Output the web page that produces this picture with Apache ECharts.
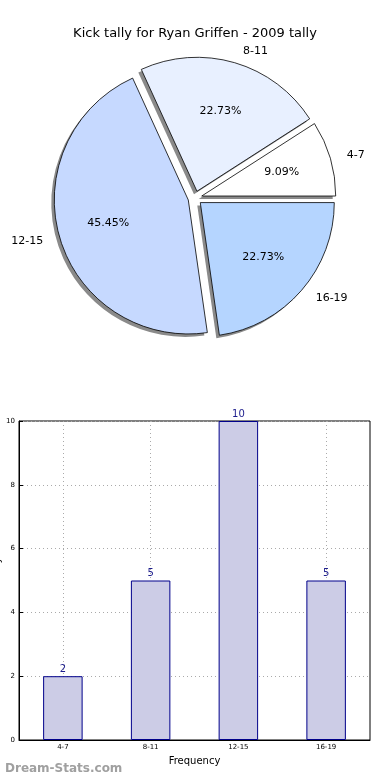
<!DOCTYPE html>
<html>
<head>
<meta charset="utf-8">
<script src="https://cdn.jsdelivr.net/npm/echarts@6/dist/echarts.min.js"></script>
<style>
html,body{margin:0;padding:0;background:#fff;}
#main{width:390px;height:780px;}
</style>
</head>
<body>
<div id="main"></div>
<script>
const categories = ['4-7', '8-11', '12-15', '16-19'];
const kicks = [2, 5, 10, 5];
const pieColors = ['#ffffff', '#e8f0ff', '#c6d9ff', '#b5d5ff'];
const yMin = 0, yMax = 10, yStep = 2;
const titleText = 'Kick tally for Ryan Griffen - 2009 tally';
const xName = 'Frequency';
const yName = 'Games Played';
const watermark = 'Dream-Stats.com';

const FONT = 'DejaVu Sans';
const pieCenter = [195, 198];
const shadowCenter = [192, 201];
const R = 134;

const chart = echarts.init(document.getElementById('main'), null, {renderer: 'canvas'});

const pieData = categories.map((c, i) => ({
  name: c, value: kicks[i], selected: true,
  itemStyle: {color: pieColors[i]}
}));
const plainData = categories.map((c, i) => ({
  name: c, value: kicks[i], selected: true
}));

chart.setOption({
  animation: false,
  textStyle: {fontFamily: FONT},
  title: [
    {text: titleText, left: 'center', top: 22,
     textStyle: {fontSize: 13, fontWeight: 'normal', color: '#000', fontFamily: FONT}},
    {text: watermark, left: 0, bottom: 0,
     textStyle: {fontSize: 12, fontWeight: 'bold', color: '#a0a0a0', fontFamily: FONT}}
  ],
  grid: {left: 19, right: 20, top: 421, bottom: 40, show: true,
         outerBoundsMode: 'none', containLabel: false,
         borderColor: '#000', borderWidth: 1, backgroundColor: 'transparent'},
  xAxis: {
    type: 'category', data: categories, boundaryGap: true,
    name: xName, nameLocation: 'middle', nameGap: 16, nameMoveOverlap: false,
    nameTextStyle: {fontSize: 10, color: '#000', fontFamily: FONT},
    axisLine: {lineStyle: {color: '#000', width: 1}},
    axisTick: {show: true, inside: true, alignWithLabel: true, length: 4, lineStyle: {color: '#000'}},
    axisLabel: {fontSize: 7, color: '#000', margin: 4, fontFamily: FONT},
    splitLine: {show: true, alignWithLabel: true, lineStyle: {type: [1, 3], color: '#aaa', width: 1}}
  },
  yAxis: {
    type: 'value', min: yMin, max: yMax, interval: yStep,
    name: yName, nameLocation: 'middle', nameRotate: 90, nameGap: 17, nameMoveOverlap: false,
    nameTextStyle: {fontSize: 10, color: '#000', fontFamily: FONT},
    axisLine: {show: true, lineStyle: {color: '#000', width: 1}},
    axisTick: {show: true, inside: true, length: 4, lineStyle: {color: '#000'}},
    axisLabel: {fontSize: 7, color: '#000', margin: 4, fontFamily: FONT},
    splitLine: {show: true, lineStyle: {type: [1, 3], color: '#aaa', width: 1}}
  },
  series: [
    {
      type: 'pie', center: shadowCenter, radius: R,
      startAngle: 0, clockwise: false,
      selectedMode: 'multiple', selectedOffset: 7,
      data: plainData,
      itemStyle: {color: '#8a8a8a', borderWidth: 0},
      select: {itemStyle: {color: '#8a8a8a', borderWidth: 0}},
      emphasis: {disabled: true},
      label: {show: false}, labelLine: {show: false},
      silent: true
    },
    {
      type: 'pie', center: pieCenter, radius: R,
      startAngle: 0, clockwise: false,
      selectedMode: 'multiple', selectedOffset: 7,
      data: pieData,
      itemStyle: {borderColor: '#000', borderWidth: 0.8},
      select: {itemStyle: {borderColor: '#000', borderWidth: 0.8}},
      emphasis: {disabled: true},
      label: {show: true, position: 'outside', formatter: '{b}',
              fontSize: 11, color: '#000', fontFamily: FONT},
      labelLine: {show: false, length: 12, length2: 0},
      silent: true
    },
    {
      type: 'pie', center: pieCenter, radius: R * 1.2,
      startAngle: 0, clockwise: false,
      selectedMode: 'multiple', selectedOffset: 7,
      data: plainData,
      itemStyle: {color: 'rgba(0,0,0,0)', borderWidth: 0},
      select: {itemStyle: {color: 'rgba(0,0,0,0)', borderWidth: 0}},
      emphasis: {disabled: true},
      label: {show: true, position: 'inside', formatter: '{d}%',
              fontSize: 11, color: '#000', fontFamily: FONT},
      labelLine: {show: false},
      silent: true
    },
    {
      type: 'bar', data: kicks, barWidth: '45%',
      itemStyle: {color: '#ccccE6', borderColor: '#00008b', borderWidth: 1},
      label: {show: true, position: 'top', distance: 2, fontSize: 10,
              color: '#1c1c8c', fontFamily: FONT},
      emphasis: {disabled: true},
      silent: true
    }
  ]
});
</script>
</body>
</html>
